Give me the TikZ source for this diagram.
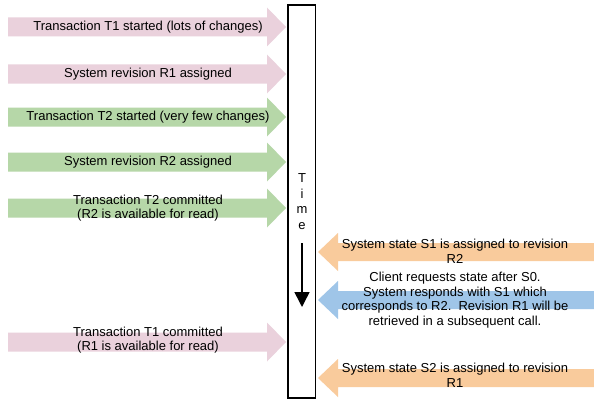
\documentclass[tikz,border=0pt]{standalone}
\usepackage{fontspec}
\setmainfont{Liberation Sans}
\usetikzlibrary{arrows.meta}
\definecolor{pinkA}{HTML}{EAD1DC}
\definecolor{greenA}{HTML}{B6D7A8}
\definecolor{orangeA}{HTML}{F9CB9C}
\definecolor{blueA}{HTML}{9FC5E8}
\newcommand\LeftArr[2]{\fill[#2] (8,#1-9.5) -- (267,#1-9.5) -- (267,#1-19.5) -- (286,#1) -- (267,#1+19.5) -- (267,#1+9.5) -- (8,#1+9.5) -- cycle;}
\newcommand\RightArr[2]{\fill[#2] (594,#1-9) -- (338,#1-9) -- (338,#1-19) -- (318,#1) -- (338,#1+19) -- (338,#1+9) -- (594,#1+9) -- cycle;}
\begin{document}
\begin{tikzpicture}[x=1pt,y=-1pt,
  lbl/.style={font=\fontsize{13}{14.5}\selectfont, align=center, inner sep=0pt, text=black},
  timebox/.style={draw=black, line width=1.6pt, fill=white},
  timearrow/.style={line width=1.5pt, -{Triangle[length=15pt,width=15pt]}}]
\useasboundingbox (0,0) rectangle (594,404);
\fill[white] (0,0) rectangle (594,404);
% left arrows
\LeftArr{27}{pinkA}
\LeftArr{74}{pinkA}
\LeftArr{117}{greenA}
\LeftArr{162}{greenA}
\LeftArr{208}{greenA}
\LeftArr{342}{pinkA}
% right arrows
\RightArr{252}{orangeA}
\RightArr{300}{blueA}
\RightArr{378}{orangeA}
% time box
\draw[timebox] (288,5) rectangle (315.5,398);
\node[lbl, font=\fontsize{13}{15.5}\selectfont] (time) at (302,201.5) {T\\i\\m\\e};
\coordinate (ta) at (302,243);
\coordinate (tb) at (302,307);
\draw[timearrow] (ta) -- (tb);
% left labels
\node[lbl] (t1s) at (148,27) {Transaction T1 started (lots of changes)};
\node[lbl] (r1a) at (148,74) {System revision R1 assigned};
\node[lbl] (t2s) at (148,117) {Transaction T2 started (very few changes)};
\node[lbl] (r2a) at (148,162) {System revision R2 assigned};
\node[lbl] (t2c) at (148,208) {Transaction T2 committed\\(R2 is available for read)};
\node[lbl] (t1c) at (148,340) {Transaction T1 committed\\(R1 is available for read)};
% right labels
\node[lbl] (s1) at (455,251.5) {System state S1 is assigned to revision\\R2};
\node[lbl] (cl) at (455,300) {Client requests state after S0.\\System responds with S1 which\\corresponds to R2.\ \ Revision R1 will be\\retrieved in a subsequent call.};
\node[lbl] (s2) at (455,375.5) {System state S2 is assigned to revision\\R1};
\end{tikzpicture}
\end{document}
